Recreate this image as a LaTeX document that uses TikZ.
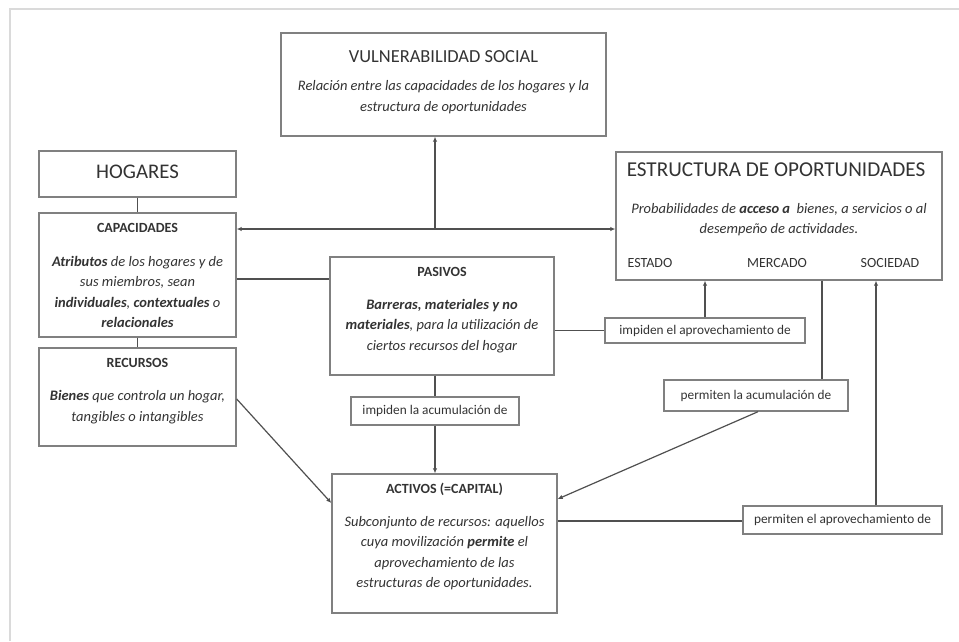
\documentclass[tikz,border=0pt]{standalone}
\usepackage{fontspec}
\setmainfont{Carlito}
\usetikzlibrary{arrows.meta,calc}
\definecolor{txt}{HTML}{333333}
\definecolor{boxc}{HTML}{808080}
\definecolor{linec}{HTML}{505050}
\definecolor{framec}{HTML}{DADADA}
\tikzset{
  box/.style={draw=boxc,line width=1.4pt,rectangle,inner sep=0pt},
  conn/.style={draw=linec,line width=1.2pt},
  arr/.style={conn,-{Latex[length=5pt,width=4.5pt]}},
  tx/.style={text=txt,inner sep=0pt,align=center,font=\fontsize{14.5}{20.5}\selectfont\itshape},
  hd/.style={text=txt,inner sep=0pt,font=\fontsize{14}{16}\selectfont\bfseries},
  lb/.style={text=txt,inner sep=0pt,font=\fontsize{13.3}{15}\selectfont},
  cat/.style={text=txt,inner sep=0pt,font=\fontsize{14}{16}\selectfont},
  ttl/.style={text=txt,inner sep=0pt},
}
\begin{document}
\begin{tikzpicture}[x=1pt,y=-1pt]
\useasboundingbox (0,0) rectangle (959,641);
\fill[white] (0,0) rectangle (959,641);
\draw[framec,line width=2pt] (10,641) -- (10,9) -- (959,9);
% boxes
\node[box,minimum width=325pt,minimum height=103pt] (vul) at (443.5,84.5) {};
\node[box,minimum width=197pt,minimum height=46pt] (hog) at (137.5,174) {};
\node[box,minimum width=197pt,minimum height=124pt] (cap) at (137.5,275) {};
\node[box,minimum width=197pt,minimum height=98pt] (rec) at (137.5,397) {};
\node[box,minimum width=326pt,minimum height=128pt] (est) at (779,216) {};
\node[box,minimum width=224pt,minimum height=118pt] (pas) at (442,316) {};
\node[box,minimum width=168pt,minimum height=28pt] (imp1) at (435,411) {};
\node[box,minimum width=200pt,minimum height=25pt] (imp2) at (705,330.5) {};
\node[box,minimum width=184pt,minimum height=31pt] (perm1) at (756,395.5) {};
\node[box,minimum width=199pt,minimum height=28pt] (perm2) at (842.5,520) {};
\node[box,minimum width=225pt,minimum height=139pt] (act) at (444.5,543.5) {};
% texts
\node[ttl,font=\fontsize{18.4}{20}\selectfont] (vult) at (443.5,57) {VULNERABILIDAD SOCIAL};
\node[tx] (vulb) at (443.5,97) {Relación entre las capacidades de los hogares y la\\estructura de oportunidades};
\node[ttl,font=\fontsize{20.8}{22}\selectfont] (hogt) at (137.5,172) {HOGARES};
\node[hd] (capt) at (137.5,228) {CAPACIDADES};
\node[tx] (capb) at (137.5,292) {\textbf{Atributos} de los hogares y de\\sus miembros, sean\\\textbf{individuales}, \textbf{contextuales} o\\\textbf{relacionales}};
\node[hd] (rect) at (137.5,363) {RECURSOS};
\node[tx] (recb) at (137.5,407) {\textbf{Bienes} que controla un hogar,\\tangibles o intangibles};
\node[ttl,font=\fontsize{21.2}{23}\selectfont] (estt) at (776,170) {ESTRUCTURA DE OPORTUNIDADES};
\node[tx] (estb) at (779,219.5) {Probabilidades de \textbf{acceso a}\ \ bienes, a servicios o al\\desempeño de actividades.};
\node[cat] (estado) at (650,263) {ESTADO};
\node[cat] (mercado) at (777,263) {MERCADO};
\node[cat] (sociedad) at (890,263) {SOCIEDAD};
\node[hd] (past) at (442,272) {PASIVOS};
\node[tx] (pasb) at (442,326) {\textbf{Barreras, materiales y no}\\\textbf{materiales}, para la utilización de\\ciertos recursos del hogar};
\node[lb] (imp1t) at (435,411) {impiden la acumulación de};
\node[lb] (imp2t) at (705,330.5) {impiden el aprovechamiento de};
\node[lb] (perm1t) at (756,395.5) {permiten la acumulación de};
\node[lb] (perm2t) at (842.5,520) {permiten el aprovechamiento de};
\node[hd] (actt) at (444.5,489) {ACTIVOS (=CAPITAL)};
\node[tx] (actb) at (444.5,553) {Subconjunto de recursos: aquellos\\cuya movilización \textbf{permite} el\\aprovechamiento de las\\estructuras de oportunidades.};
% connectors
\draw[conn] (hog.south) -- (cap.north);
\draw[conn] (cap.south) -- (rec.north);
\coordinate (j) at (435,229);
\draw[conn,{Latex[length=5pt,width=4.5pt]}-{Latex[length=5pt,width=4.5pt]}] (cap.east |- j) -- (est.west |- j);
\draw[arr] (j) -- (j |- vul.south);
\coordinate (pl) at (0,279);
\draw[conn] (cap.east |- pl) -- (pas.west |- pl);
\draw[conn] (pas.east |- imp2.west) -- (imp2.west);
\draw[arr] (imp2.north) -- (imp2.north |- est.south);
\coordinate (mx) at (822,0);
\draw[conn] (est.south -| mx) -- (perm1.north -| mx);
\coordinate (ay) at (0,499);
\draw[arr] ([xshift=2pt]perm1.south) -- (act.east |- ay);
\coordinate (by) at (0,521);
\draw[conn] (act.east |- by) -- (perm2.west |- by);
\coordinate (sx) at (876,0);
\draw[arr] (perm2.north -| sx) -- (est.south -| sx);
\draw[conn] (imp1.north |- pas.south) -- (imp1.north);
\draw[arr] (imp1.south) -- (imp1.south |- act.north);
\coordinate (ry) at (0,399);
\coordinate (ry2) at (0,503);
\draw[arr] (rec.east |- ry) -- (act.west |- ry2);
\end{tikzpicture}
\end{document}
